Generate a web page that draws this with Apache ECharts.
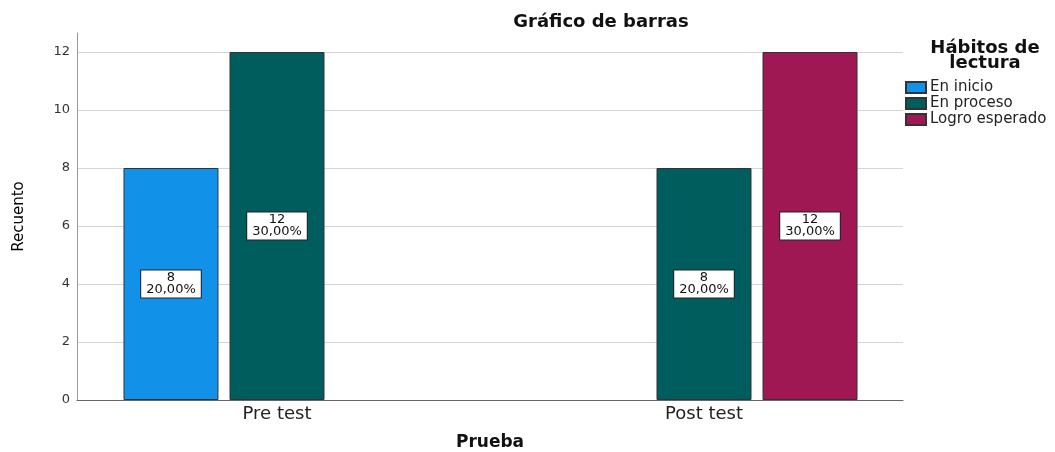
<!DOCTYPE html>
<html>
<head>
<meta charset="utf-8">
<script src="https://cdn.jsdelivr.net/npm/echarts@6/dist/echarts.min.js"></script>
<style>html,body{margin:0;padding:0;background:#fff}#c{width:1055px;height:452px}</style>
</head>
<body>
<div id="c"></div>
<script>
const categories = ['Pre test', 'Post test'];
const seriesNames = ['En inicio', 'En proceso', 'Logro esperado'];
const enInicio = [8, null];
const enProceso = [12, 8];
const logroEsperado = [null, 12];
const yTicks = [0, 2, 4, 6, 8, 10, 12];
const colors = ['#1192e8', '#005d5d', '#9f1853'];

const allVals = [enInicio, enProceso, logroEsperado];
const total = allVals.flat().reduce((s, v) => s + (v || 0), 0);
const fmt = v => (v / total * 100).toFixed(2).replace('.', ',') + '%';

const chart = echarts.init(document.getElementById('c'));
const font = 'DejaVu Sans';

const series = allVals.map((arr, i) => ({
  name: seriesNames[i],
  type: 'bar',
  xAxisIndex: 1,
  yAxisIndex: 1,
  data: arr.map(v => v === null ? '-' : v),
  barWidth: 95,
  barGap: '11.6%',
  itemStyle: { color: colors[i], borderColor: '#333', borderWidth: 1 },
  label: {
    show: true,
    position: 'inside',
    formatter: p => p.value + '\n' + fmt(p.value),
    fontFamily: font,
    fontSize: 13,
    lineHeight: 12,
    color: '#111',
    backgroundColor: '#fff',
    borderColor: '#222',
    borderWidth: 1,
    padding: [2, 5, 1, 5]
  }
}));

chart.setOption({
  animation: false,
  textStyle: { fontFamily: font },
  title: [
    { text: 'Gráfico de barras', left: 596, top: 8, textAlign: 'center',
      textStyle: { fontFamily: font, fontSize: 18, fontWeight: 'bold', color: '#111' } },
    { text: 'Hábitos de\nlectura', left: 980, top: 36, textAlign: 'center',
      textStyle: { fontFamily: font, fontSize: 18, fontWeight: 'bold', color: '#111', lineHeight: 15 } }
  ],
  legend: {
    orient: 'vertical',
    left: 905,
    top: 80,
    padding: 0,
    itemWidth: 20,
    itemHeight: 11,
    itemGap: 1,
    icon: 'rect',
    data: seriesNames,
    textStyle: { fontFamily: font, fontSize: 15, color: '#222', lineHeight: 15, padding: [0, 0, 0, -1] }
  },
  grid: [
    { left: 77, right: 152, top: 52, bottom: 52, outerBoundsMode: 'none', containLabel: false },
    { left: 63.5, right: 137.5, top: 52, bottom: 52, outerBoundsMode: 'none', containLabel: false },
    { left: 77, right: 152, top: 33, bottom: 52, outerBoundsMode: 'none', containLabel: false }
  ],
  xAxis: [
    { type: 'value', gridIndex: 0, min: 0, max: 1,
      axisLine: { show: true, lineStyle: { color: '#666', width: 1 } },
      axisTick: { show: false }, axisLabel: { show: false }, splitLine: { show: false },
      name: 'Prueba', nameLocation: 'middle', nameGap: 34,
      nameTextStyle: { fontFamily: font, fontSize: 17, fontWeight: 'bold', color: '#111' } },
    { type: 'category', gridIndex: 1, data: categories,
      axisLine: { show: false }, axisTick: { show: false },
      axisLabel: { fontFamily: font, fontSize: 18, color: '#222', margin: 5 } },
    { type: 'value', gridIndex: 2, min: 0, max: 1, show: false }
  ],
  yAxis: [
    { type: 'value', gridIndex: 0, min: yTicks[0], max: yTicks[yTicks.length - 1], interval: 2,
      axisLine: { show: false }, axisTick: { show: false },
      axisLabel: { fontFamily: font, fontSize: 13, color: '#333', margin: 7 },
      splitLine: { show: true, lineStyle: { color: '#d4d4d4', width: 1 } } },
    { type: 'value', gridIndex: 1, min: yTicks[0], max: yTicks[yTicks.length - 1], show: false },
    { type: 'value', gridIndex: 2, min: 0, max: 1,
      axisLine: { show: true, lineStyle: { color: '#999', width: 1 } },
      axisTick: { show: false }, axisLabel: { show: false }, splitLine: { show: false },
      name: 'Recuento', nameLocation: 'middle', nameRotate: 90, nameGap: 50,
      nameTextStyle: { fontFamily: font, fontSize: 15, color: '#000' } }
  ],
  series: series
});
</script>
</body>
</html>
